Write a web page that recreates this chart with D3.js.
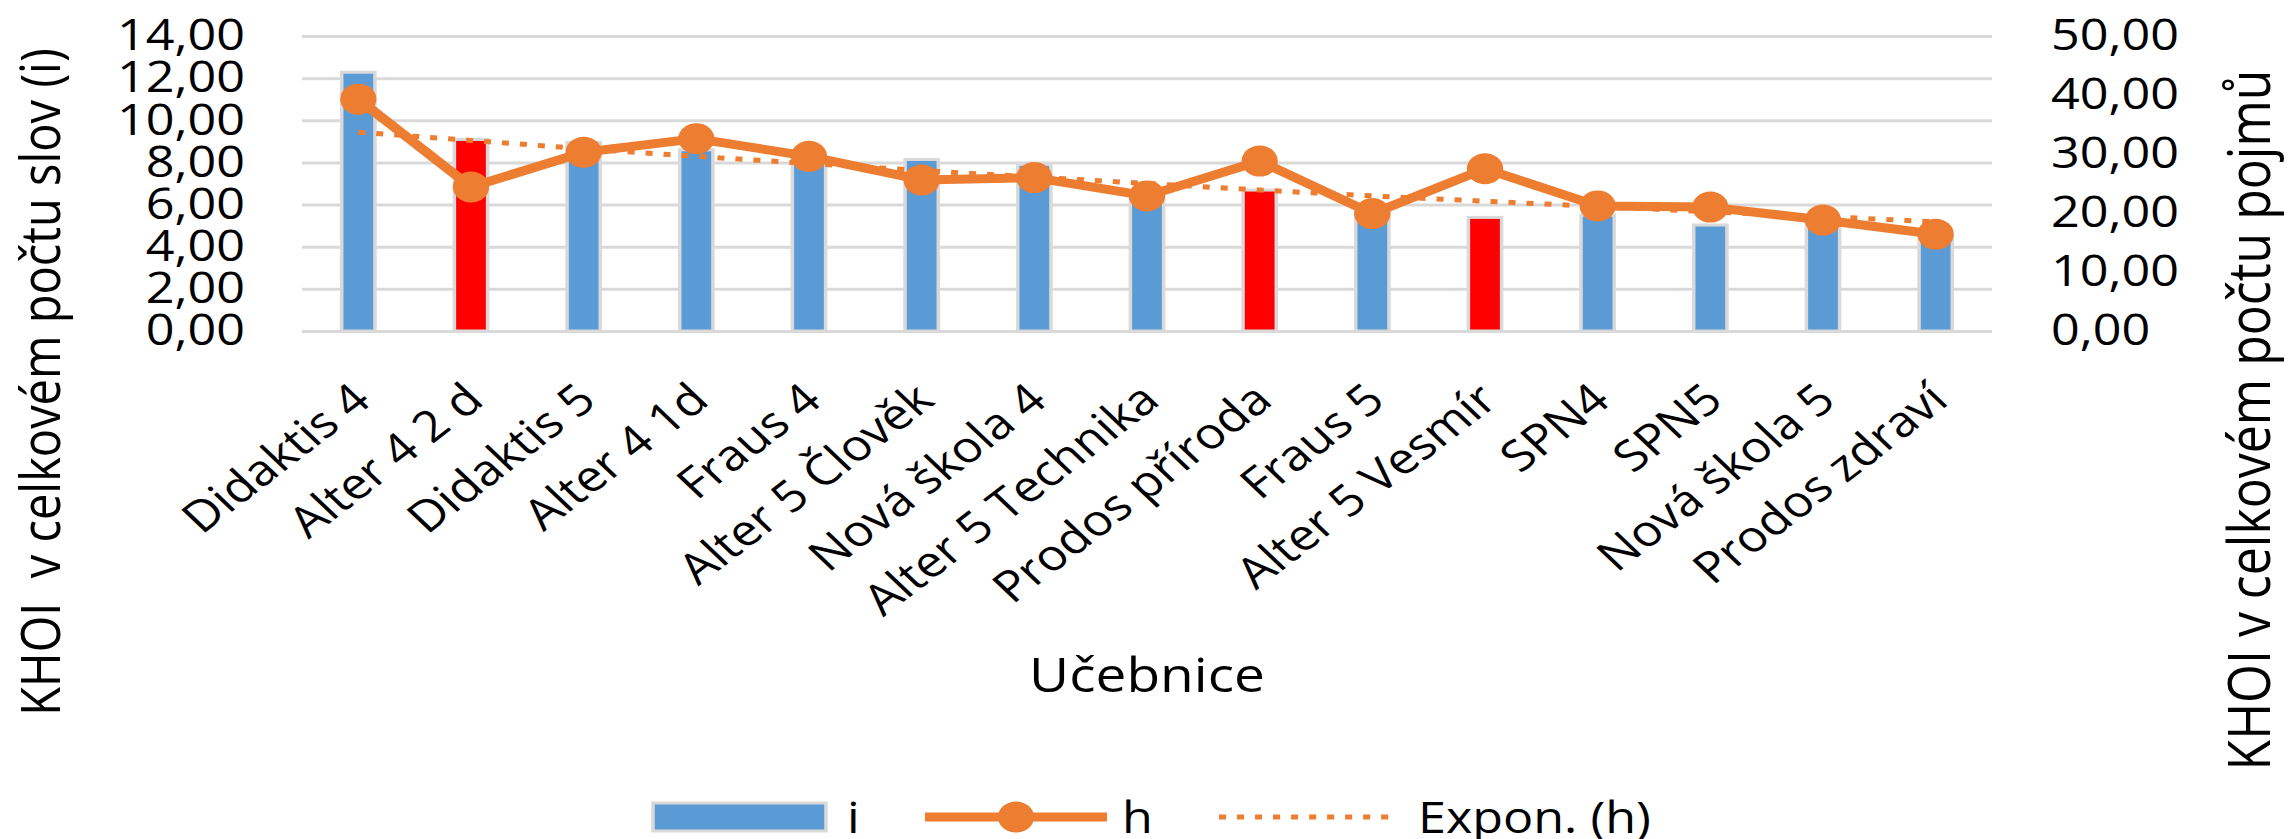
<!DOCTYPE html>
<html><head><meta charset="utf-8">
<script src="https://cdn.jsdelivr.net/npm/d3@7"></script>
<style>
html,body{margin:0;padding:0;background:#fff;}
text{font-family:"Open Sans","Noto Sans",sans-serif;fill:#000;}
</style>
</head><body>
<svg id="c" width="2292" height="839"></svg>
<script>
// ---- data ----
const categories = ["Didaktis 4","Alter 4 2 d","Didaktis 5","Alter 4 1d","Fraus 4","Alter 5 Člověk","Nová škola 4","Alter 5 Technika","Prodos příroda","Fraus 5","Alter 5 Vesmír","SPN4","SPN5","Nová škola 5","Prodos zdraví"];
const seriesI = [12.28, 9.09, 8.95, 8.6, 8.2, 8.14, 7.9, 6.5, 6.69, 5.6, 5.39, 5.5, 5.03, 5.1, 4.5];
const seriesH = [39.3, 24.4, 30.3, 32.6, 29.6, 25.6, 26.0, 22.9, 28.8, 19.9, 27.5, 21.2, 21.0, 18.8, 16.4];
const trendH  = [33.7, 32.3, 30.9, 29.6, 28.4, 27.2, 26.1, 25.0, 23.9, 22.9, 22.0, 21.1, 20.2, 19.4, 18.5];
const highlighted = ["Alter 4 2 d","Prodos příroda","Alter 5 Vesmír"];
const leftTicks = [0,2,4,6,8,10,12,14];
const rightTicks = [0,10,20,30,40,50];
const leftTitle = "KHOI  v celkovém počtu slov (i)";
const rightTitle = "KHOI v celkovém počtu pojmů";
const xTitle = "Učebnice";
const legendNames = ["i","h","Expon. (h)"];

// ---- layout ----
const SX = 1.17;               // horizontal stretch of the original picture
const X = v => v / SX;
const plot = {left:302, right:1992, top:36, bottom:331};
const blue = "#5B9BD5", red = "#FF0000", orange = "#ED7D31", grid = "#D9D9D9";
const fs = 43;

const svg = d3.select("#c");
const root = svg.append("g").attr("transform", `scale(${SX},1)`);

const x = d3.scaleBand().domain(categories).range([X(plot.left), X(plot.right)]).padding(0);
const yL = d3.scaleLinear().domain([0,14]).range([plot.bottom, plot.top]);
const yR = d3.scaleLinear().domain([0,50]).range([plot.bottom, plot.top]);
const fmt = v => d3.format(".2f")(v).replace(".", ",");
const cx = c => x(c) + x.bandwidth()/2;

// gridlines + left axis
const gL = root.append("g").attr("transform", `translate(${X(plot.left)},0)`)
  .call(d3.axisLeft(yL).tickValues(leftTicks).tickFormat(fmt)
        .tickSize(-(X(plot.right) - X(plot.left))).tickPadding(X(57)));
gL.select(".domain").remove();
gL.selectAll(".tick line").attr("stroke", grid).attr("stroke-width", 3);
gL.selectAll(".tick text").attr("font-size", fs).attr("fill", "#000")
  .attr("font-family", '"Open Sans","Noto Sans",sans-serif');

// right axis
const gR = root.append("g").attr("transform", `translate(${X(plot.right)},0)`)
  .call(d3.axisRight(yR).tickValues(rightTicks).tickFormat(fmt).tickSize(0).tickPadding(X(59)));
gR.select(".domain").remove();
gR.selectAll(".tick text").attr("font-size", fs).attr("fill", "#000")
  .attr("font-family", '"Open Sans","Noto Sans",sans-serif');

// bars
const barW = x.bandwidth() * 0.295;
root.append("g").selectAll("rect").data(categories).join("rect")
  .attr("x", c => cx(c) - barW/2)
  .attr("width", barW)
  .attr("y", (c,i) => yL(seriesI[i]))
  .attr("height", (c,i) => yL(0) - yL(seriesI[i]))
  .attr("fill", c => highlighted.includes(c) ? red : blue)
  .attr("stroke", grid).attr("stroke-width", 3);

// h line
const line = d3.line().x(d => cx(d[0])).y(d => yR(d[1]));
const hPts = categories.map((c,i) => [c, seriesH[i]]);
root.append("path").datum(hPts).attr("d", line)
  .attr("fill","none").attr("stroke", orange).attr("stroke-width", 9).attr("stroke-linejoin","round");
root.append("g").selectAll("circle").data(hPts).join("circle")
  .attr("cx", d => cx(d[0])).attr("cy", d => yR(d[1])).attr("r", 15.5).attr("fill", orange);

// exponential trend (dotted)
const tPts = categories.map((c,i) => [c, trendH[i]]);
root.append("path").datum(tPts).attr("d", line.curve(d3.curveMonotoneX))
  .attr("fill","none").attr("stroke", orange).attr("stroke-width", 5)
  .attr("stroke-dasharray", "6 9.4");

// x labels
root.append("g").selectAll("text").data(categories).join("text")
  .attr("transform", c => `translate(${cx(c) + X(3)},392) rotate(-42)`)
  .attr("text-anchor","end").attr("dy","0.35em").attr("font-size", fs)
  .text(c => c);

// axis titles
root.append("text").attr("x", X((plot.left + plot.right)/2)).attr("y", 692)
  .attr("text-anchor","middle").attr("font-size", 47).text(xTitle);
root.append("text").attr("transform", `translate(${X(60)},382) rotate(-90)`)
  .attr("text-anchor","middle").attr("font-size", 47).style("white-space","pre").text(leftTitle);
root.append("text").attr("transform", `translate(${X(2270)},420) rotate(-90)`)
  .attr("text-anchor","middle").attr("font-size", 50).style("white-space","pre").text(rightTitle);

// legend
const lg = root.append("g");
lg.append("rect").attr("x", X(653)).attr("y", 803).attr("width", X(826) - X(653)).attr("height", 28)
  .attr("fill", blue).attr("stroke", grid).attr("stroke-width", 3);
lg.append("text").attr("x", X(847)).attr("y", 833).attr("font-size", fs).text(legendNames[0]);
lg.append("line").attr("x1", X(925)).attr("x2", X(1107)).attr("y1", 817).attr("y2", 817)
  .attr("stroke", orange).attr("stroke-width", 9);
lg.append("circle").attr("cx", X(1016)).attr("cy", 817).attr("r", 15.5).attr("fill", orange);
lg.append("text").attr("x", X(1122)).attr("y", 833).attr("font-size", fs).text(legendNames[1]);
lg.append("line").attr("x1", X(1219)).attr("x2", X(1390)).attr("y1", 817).attr("y2", 817)
  .attr("stroke", orange).attr("stroke-width", 5).attr("stroke-dasharray", "6 9.4");
lg.append("text").attr("x", X(1418)).attr("y", 833).attr("font-size", fs).text(legendNames[2]);
</script>
</body></html>
